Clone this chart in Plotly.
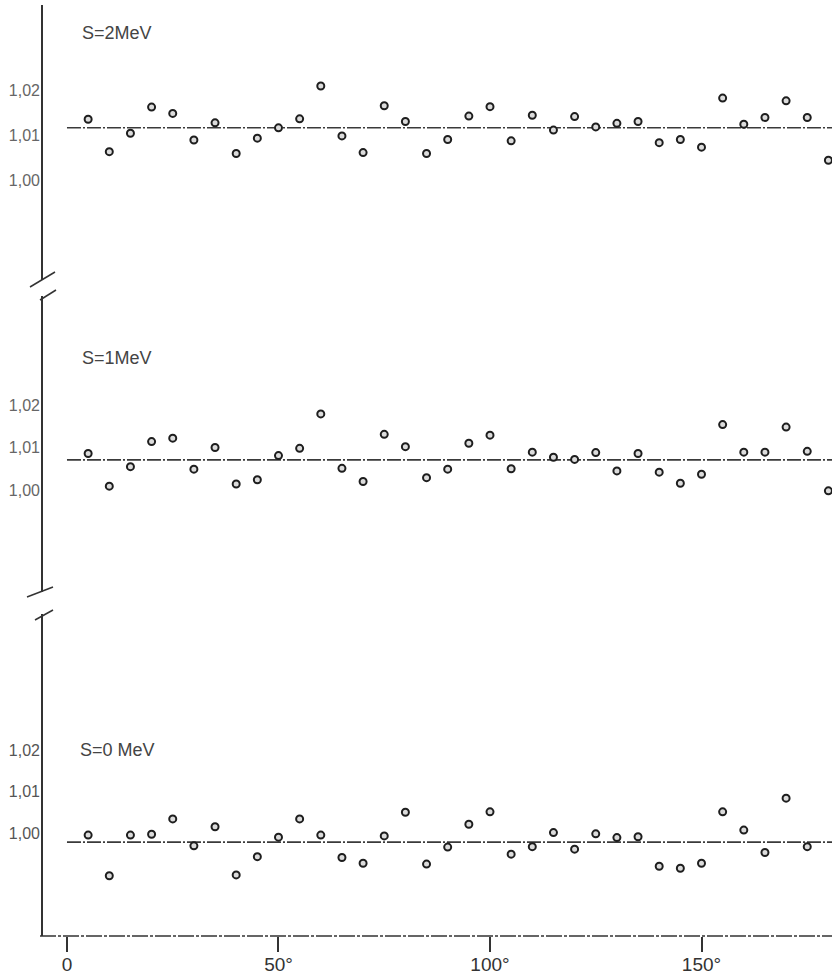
import plotly.graph_objects as go

# ---- data ----
angles = [5, 10, 15, 20, 25, 30, 35, 40, 45, 50, 55, 60, 65, 70, 75, 80, 85, 90,
          95, 100, 105, 110, 115, 120, 125, 130, 135, 140, 145, 150, 155, 160, 165, 170, 175, 180]

s2_values = [1.0135, 1.0063, 1.0104, 1.0162, 1.0148, 1.0089, 1.0127, 1.0059, 1.0093, 1.0116,
             1.0136, 1.0209, 1.0098, 1.0061, 1.0165, 1.0130, 1.0059, 1.0090, 1.0142, 1.0163,
             1.0087, 1.0144, 1.0111, 1.0141, 1.0118, 1.0126, 1.0130, 1.0083, 1.0090, 1.0073,
             1.0182, 1.0124, 1.0139, 1.0176, 1.0139, 1.0044]

s1_values = [1.0086, 1.0009, 1.0055, 1.0114, 1.0122, 1.0049, 1.0100, 1.0014, 1.0024, 1.0081,
             1.0098, 1.0179, 1.0051, 1.0020, 1.0131, 1.0102, 1.0029, 1.0049, 1.0110, 1.0129,
             1.0050, 1.0089, 1.0077, 1.0072, 1.0088, 1.0045, 1.0086, 1.0042, 1.0016, 1.0037,
             1.0154, 1.0089, 1.0089, 1.0148, 1.0091, 0.9998]

s0_values = [0.9995, 0.9897, 0.9995, 0.9997, 1.0034, 0.9969, 1.0015, 0.9899, 0.9943, 0.9990,
             1.0034, 0.9995, 0.9941, 0.9927, 0.9993, 1.0050, 0.9925, 0.9966, 1.0021, 1.0051,
             0.9949, 0.9967, 1.0001, 0.9961, 0.9998, 0.9989, 0.9991, 0.9920, 0.9915, 0.9927,
             1.0051, 1.0007, 0.9953, 1.0084, 0.9967, None]

ref_levels = [1.0116, 1.0071, 0.9978]
panel_labels = ["S=2MeV", "S=1MeV", "S=0 MeV"]

ytick_vals = [1.00, 1.01, 1.02]
ytick_text = ["1,00", "1,01", "1,02"]
xtick_vals = [0, 50, 100, 150]
xtick_text = ["0", "50°", "100°", "150°"]

# ---- figure ----
W, H = 832, 978
ML, MB = 43, 42
PH = H - MB  # plot height in px

def frac(py):
    return 1 - py / PH

# pixel extents of the three panels (top, bottom)
panels_px = [(5, 280), (296, 592), (614, 936)]
y_ranges = [[0.97778, 1.03889], [0.9760, 1.04565], [0.97518, 1.05277]]
x_range = [-5.67, 180.85]

series = [s2_values, s1_values, s0_values]
fig = go.Figure()

ink = "#1e1e1e"
for i in range(3):
    xa = "x" if i == 0 else f"x{i+1}"
    ya = "y" if i == 0 else f"y{i+1}"
    fig.add_trace(go.Scatter(
        x=[0, x_range[1]], y=[ref_levels[i], ref_levels[i]],
        mode="lines", xaxis=xa, yaxis=ya, hoverinfo="skip",
        line=dict(color="#3a3a3a", width=1.6, dash="14px,2px,2px,2px"),
        showlegend=False))
    fig.add_trace(go.Scatter(
        x=angles, y=series[i], mode="markers", xaxis=xa, yaxis=ya,
        marker=dict(symbol="circle", size=7, color="#dcdcdc",
                    line=dict(color=ink, width=2)),
        cliponaxis=False, showlegend=False))

layout = dict(
    width=W, height=H,
    margin=dict(l=ML, r=0, t=0, b=MB),
    paper_bgcolor="white", plot_bgcolor="white",
    font=dict(family="Liberation Sans, Arial, sans-serif", color="#444"),
    showlegend=False,
)

for i in range(3):
    top, bot = panels_px[i]
    sx = "" if i == 0 else str(i + 1)
    is_bottom = (i == 2)
    layout[f"xaxis{sx}"] = dict(
        domain=[0, 1], range=x_range, anchor=f"y{sx}",
        showgrid=False, zeroline=False, showline=False,
        tickvals=xtick_vals if is_bottom else [],
        ticktext=xtick_text if is_bottom else [],
        showticklabels=is_bottom,
        ticks="outside" if is_bottom else "", ticklen=15, tickwidth=1.5,
        tickcolor="#333", ticklabelstandoff=-4,
        tickfont=dict(size=19, color="#333"),
    )
    layout[f"yaxis{sx}"] = dict(
        domain=[frac(bot), frac(top)], range=y_ranges[i], anchor=f"x{sx}",
        showgrid=False, zeroline=False,
        showline=True, linecolor="#333", linewidth=1.6,
        tickvals=ytick_vals, ticktext=ytick_text, ticks="",
        ticklabelstandoff=-2,
        tickfont=dict(size=16, color="#666" if i < 2 else "#555"),
    )

# panel labels
label_px = [(80, 33), (80, 358), (78, 750)]
annotations = []
for i in range(3):
    px, py = label_px[i]
    annotations.append(dict(
        text=panel_labels[i], xref="paper", yref="paper",
        x=(px - ML) / (W - ML), y=frac(py), xanchor="left", yanchor="middle",
        showarrow=False, font=dict(size=18, color="#444")))
layout["annotations"] = annotations

# axis breaks and dashed bottom axis line
def pxx(x):
    return (x - ML) / (W - ML)

shapes = []
breaks = [((30, 287), (55, 272)), ((40, 300), (56, 290)),
          ((27, 597), (53, 587)), ((35, 620), (53, 610))]
for (x0, y0), (x1, y1) in breaks:
    shapes.append(dict(type="line", xref="paper", yref="paper",
                       x0=pxx(x0), y0=frac(y0), x1=pxx(x1), y1=frac(y1),
                       line=dict(color="#333", width=1.5)))
shapes.append(dict(type="line", xref="paper", yref="paper",
                   x0=pxx(40), y0=0, x1=1, y1=0,
                   line=dict(color="#333", width=1.6, dash="16px,2px,3px,2px")))
layout["shapes"] = shapes

fig.update_layout(**layout)
fig.write_html("out.html", config={"displayModeBar": False},
               post_script="document.body.style.margin='0';")
